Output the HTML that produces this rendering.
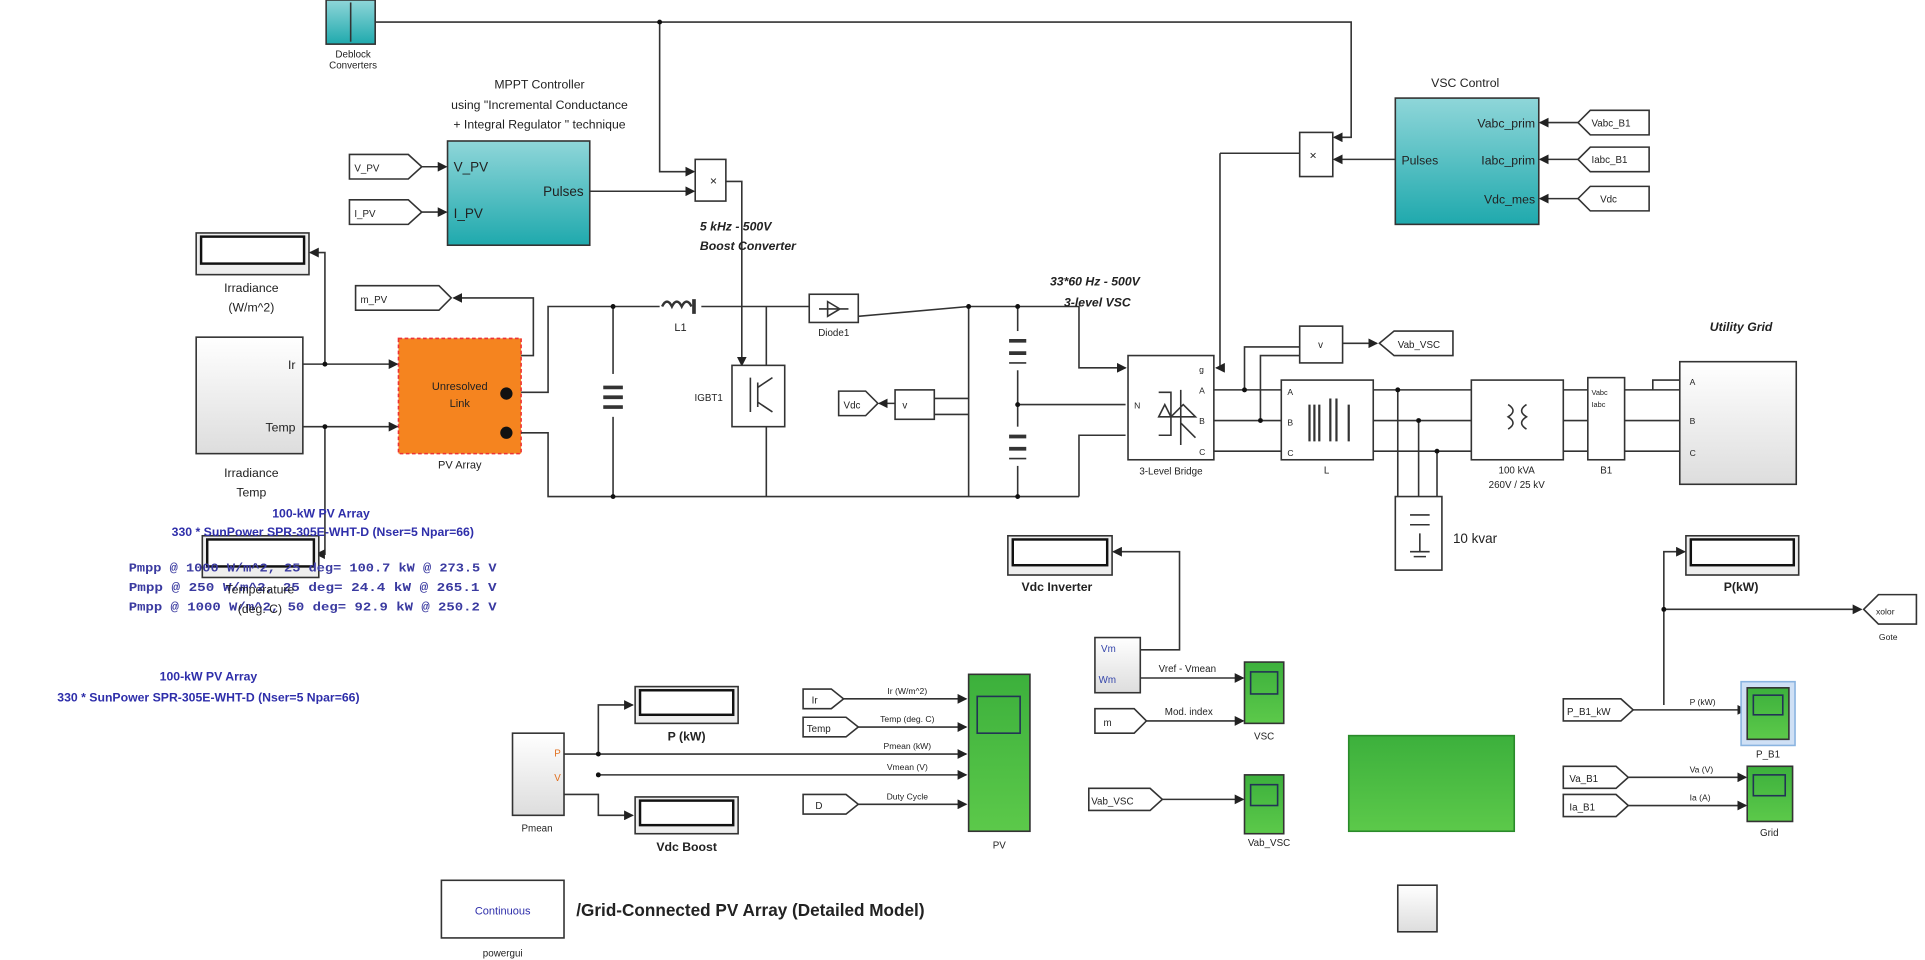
<!DOCTYPE html>
<html><head><meta charset="utf-8"><style>
html,body{margin:0;padding:0;background:#fff;width:1925px;height:960px;overflow:hidden}
svg{display:block}
text{font-family:"Liberation Sans",sans-serif;fill:#222}
</style></head><body>
<svg width="1925" height="960" viewBox="0 0 1570 783" preserveAspectRatio="none" xmlns="http://www.w3.org/2000/svg">
<defs>
<linearGradient id="teal" x1="0" y1="0" x2="0" y2="1"><stop offset="0" stop-color="#8fd6d9"/><stop offset="1" stop-color="#1fa9ad"/></linearGradient>
<linearGradient id="gray" x1="0" y1="0" x2="0" y2="1"><stop offset="0" stop-color="#fff"/><stop offset="1" stop-color="#ddd"/></linearGradient>
<linearGradient id="grn" x1="0" y1="0" x2="0" y2="1"><stop offset="0" stop-color="#3cb03c"/><stop offset="1" stop-color="#5cc94a"/></linearGradient>
<marker id="a" markerWidth="8" markerHeight="8" refX="7" refY="4" orient="auto" markerUnits="userSpaceOnUse"><path d="M0,0 L8,4 L0,8z" fill="#222"/></marker>
</defs>
<g stroke="#333" stroke-width="1.3" fill="none">
<rect x="266" y="0" width="40" height="36" fill="url(#teal)"/>
<line x1="286" y1="2" x2="286" y2="34"/>
<polyline points="306,18 1102,18 1102,112 1088,112" marker-end="url(#a)"/>
<polyline points="538,18 538,140 566,140" marker-end="url(#a)"/>
<rect x="567" y="130" width="25" height="34" fill="#fff"/>
<rect x="1060" y="108" width="27" height="36" fill="#fff"/>
<line x1="1140" y1="130" x2="1088" y2="130" marker-end="url(#a)"/>
<line x1="1060" y1="125" x2="995" y2="125"/>
<polyline points="995,125 995,300 992,300" marker-end="url(#a)"/>
<rect x="365" y="115" width="116" height="85" fill="url(#teal)"/>
<path d="M285,126 H333 L344,136 L333,146 H285Z" fill="#fff"/>
<path d="M285,163 H333 L344,173 L333,183 H285Z" fill="#fff"/>
<line x1="344" y1="136" x2="364" y2="136" marker-end="url(#a)"/>
<line x1="344" y1="173" x2="364" y2="173" marker-end="url(#a)"/>
<line x1="481" y1="156" x2="566" y2="156" marker-end="url(#a)"/>
<polyline points="592,148 605,148 605,298" marker-end="url(#a)"/>
<rect x="160" y="190" width="92" height="34" fill="#eee"/>
<rect x="164" y="193" width="84" height="22" fill="#fff" stroke="#111" stroke-width="2"/>
<rect x="160" y="275" width="87" height="95" fill="url(#gray)"/>
<rect x="325" y="276" width="100" height="94" fill="#f5841f" stroke="#e33" stroke-dasharray="3,2"/>
<line x1="247" y1="297" x2="324" y2="297" marker-end="url(#a)"/>
<line x1="247" y1="348" x2="324" y2="348" marker-end="url(#a)"/>
<polyline points="265,297 265,206 253,206" marker-end="url(#a)"/>
<polyline points="265,348 265,452 258,452" marker-end="url(#a)"/>
<path d="M290,233 H358 L368,243 L358,253 H290Z" fill="#fff"/>
<polyline points="425,290 435,290 435,243 370,243" marker-end="url(#a)"/>
<rect x="165" y="437" width="95" height="34" fill="#eee"/>
<rect x="169" y="440" width="87" height="22" fill="#fff" stroke="#111" stroke-width="2"/>
<polyline points="425,320 447,320 447,250 660,250"/>
<polyline points="425,353 447,353 447,405 880,405"/>
<line x1="500" y1="250" x2="500" y2="405"/>
<rect x="493" y="305" width="14" height="35" fill="#fff" stroke="none"/>
<line x1="492" y1="316" x2="508" y2="316" stroke-width="3"/><line x1="492" y1="324" x2="508" y2="324" stroke-width="3"/><line x1="492" y1="332" x2="508" y2="332" stroke-width="3"/>
<rect x="538" y="245" width="34" height="10" fill="#fff" stroke="none"/>
<path d="M540,250 q4,-8 8,0 q4,-8 8,0 q4,-8 8,0" stroke-width="2"/>
<line x1="566" y1="244" x2="566" y2="256" stroke-width="3"/>
<line x1="625" y1="250" x2="625" y2="298"/>
<rect x="597" y="298" width="43" height="50" fill="#fff"/>
<path d="M612,308 v28 M618,312 v20 M618,316 l12,-8 M618,328 l12,8" />
<polyline points="625,348 625,405"/>
<rect x="660" y="240" width="40" height="23" fill="#fff"/>
<path d="M668,252 h24 M675,246 v12 l10,-6z"/>
<polyline points="700,258 790,250 880,250 880,300 918,300" marker-end="url(#a)"/>
<line x1="790" y1="250" x2="790" y2="405"/>
<path d="M684,319 H706 L716,329 L706,339 H684Z" fill="#fff"/>
<rect x="730" y="318" width="32" height="24" fill="#fff"/>
<line x1="730" y1="329" x2="717" y2="329" marker-end="url(#a)"/>
<polyline points="762,325 790,325"/><polyline points="762,338 790,338"/>
<line x1="830" y1="250" x2="830" y2="405"/>
<rect x="822" y="270" width="16" height="32" fill="#fff" stroke="none"/>
<line x1="823" y1="278" x2="837" y2="278" stroke-width="3"/><line x1="823" y1="288" x2="837" y2="288" stroke-width="3"/><line x1="823" y1="296" x2="837" y2="296"/>
<rect x="822" y="348" width="16" height="32" fill="#fff" stroke="none"/>
<line x1="823" y1="356" x2="837" y2="356" stroke-width="3"/><line x1="823" y1="366" x2="837" y2="366" stroke-width="3"/><line x1="823" y1="374" x2="837" y2="374"/>
<line x1="830" y1="330" x2="918" y2="330"/>
<polyline points="880,405 880,355 918,355"/>
<rect x="920" y="290" width="70" height="85" fill="#fff"/>
<path d="M945,320 h10 v35 h-10 M963,318 v45 M950,330 l-5,10 h10z M965,330 l10,10 h-20z M963,345 l12,12"/>
<line x1="990" y1="318" x2="1045" y2="318"/><line x1="990" y1="343" x2="1045" y2="343"/><line x1="990" y1="368" x2="1045" y2="368"/>
<polyline points="1015,318 1015,283 1060,283"/><polyline points="1028,343 1028,290 1060,290"/>
<rect x="1060" y="266" width="35" height="30" fill="#fff"/>
<line x1="1095" y1="280" x2="1123" y2="280" marker-end="url(#a)"/>
<path d="M1125,280 L1137,270 H1185 V290 H1137Z" fill="#fff"/>
<rect x="1045" y="310" width="75" height="65" fill="#fff"/>
<path d="M1068,330 v30 M1072,330 v30 M1076,330 v30 M1085,325 v35 M1090,325 v35 M1100,330 v30" stroke-width="1.8"/>
<line x1="1120" y1="318" x2="1200" y2="318"/><line x1="1120" y1="343" x2="1200" y2="343"/><line x1="1120" y1="368" x2="1200" y2="368"/>
<polyline points="1140,318 1140,405"/><polyline points="1157,343 1157,405"/><polyline points="1172,368 1172,405"/>
<rect x="1138" y="405" width="38" height="60" fill="#fff"/>
<path d="M1150,420 h16 M1150,428 h16 M1158,435 v15 M1150,450 h16 M1153,454 h10"/>
<rect x="1200" y="310" width="75" height="65" fill="#fff"/>
<path d="M1230,330 q8,5 0,10 q8,5 0,10 M1245,330 q-8,5 0,10 q-8,5 0,10"/>
<line x1="1275" y1="318" x2="1295" y2="318"/><line x1="1275" y1="343" x2="1295" y2="343"/><line x1="1275" y1="368" x2="1295" y2="368"/>
<rect x="1295" y="308" width="30" height="67" fill="#fff"/>
<line x1="1325" y1="318" x2="1370" y2="318"/><line x1="1325" y1="343" x2="1370" y2="343"/><line x1="1325" y1="368" x2="1370" y2="368"/>
<polyline points="1348,318 1348,310 1370,310"/>
<rect x="1370" y="295" width="95" height="100" fill="url(#gray)"/>
<rect x="1138" y="80" width="117" height="103" fill="url(#teal)"/>
<path d="M1345,90 H1297 L1287,100 L1297,110 H1345Z" fill="#fff"/>
<path d="M1345,120 H1297 L1287,130 L1297,140 H1345Z" fill="#fff"/>
<path d="M1345,152 H1297 L1287,162 L1297,172 H1345Z" fill="#fff"/>
<line x1="1287" y1="100" x2="1256" y2="100" marker-end="url(#a)"/>
<line x1="1287" y1="130" x2="1256" y2="130" marker-end="url(#a)"/>
<line x1="1287" y1="162" x2="1256" y2="162" marker-end="url(#a)"/>
<rect x="822" y="437" width="85" height="32" fill="#eee"/>
<rect x="826" y="440" width="77" height="21" fill="#fff" stroke="#111" stroke-width="2"/>
<polyline points="930,530 962,530 962,450 908,450" marker-end="url(#a)"/>
<rect x="893" y="520" width="37" height="45" fill="url(#gray)"/>
<line x1="930" y1="553" x2="1014" y2="553" marker-end="url(#a)"/>
<rect x="1015" y="540" width="32" height="50" fill="url(#grn)"/>
<rect x="1020" y="548" width="22" height="18" fill="none" stroke="#235"/>
<path d="M893,578 H925 L935,588 L925,598 H893Z" fill="#fff"/>
<line x1="935" y1="588" x2="1014" y2="588" marker-end="url(#a)"/>
<path d="M888,643 H938 L948,652 L938,661 H888Z" fill="#fff"/>
<line x1="948" y1="652" x2="1014" y2="652" marker-end="url(#a)"/>
<rect x="1015" y="632" width="32" height="48" fill="url(#grn)"/>
<rect x="1020" y="640" width="22" height="17" fill="none" stroke="#235"/>
<rect x="1100" y="600" width="135" height="78" fill="url(#grn)" stroke="#2a8a2a"/>
<rect x="1140" y="722" width="32" height="38" fill="url(#gray)"/>
<rect x="1375" y="437" width="92" height="32" fill="#eee"/>
<rect x="1379" y="440" width="84" height="21" fill="#fff" stroke="#111" stroke-width="2"/>
<polyline points="1357,575 1357,450 1374,450" marker-end="url(#a)"/>
<line x1="1357" y1="497" x2="1518" y2="497" marker-end="url(#a)"/>
<path d="M1520,497 L1532,485 H1563 V509 H1532Z" fill="#fff"/>
<path d="M1275,570 H1322 L1332,579 L1322,588 H1275Z" fill="#fff"/>
<line x1="1332" y1="579" x2="1424" y2="579" marker-end="url(#a)"/>
<rect x="1420" y="556" width="44" height="52" fill="#cfe0f5" stroke="#8ab4e0"/>
<rect x="1425" y="561" width="34" height="42" fill="url(#grn)"/>
<rect x="1430" y="567" width="24" height="16" fill="none" stroke="#235"/>
<path d="M1275,625 H1318 L1328,634 L1318,643 H1275Z" fill="#fff"/>
<path d="M1275,648 H1318 L1328,657 L1318,666 H1275Z" fill="#fff"/>
<line x1="1328" y1="634" x2="1424" y2="634" marker-end="url(#a)"/>
<line x1="1328" y1="657" x2="1424" y2="657" marker-end="url(#a)"/>
<rect x="1425" y="625" width="37" height="45" fill="url(#grn)"/>
<rect x="1430" y="632" width="26" height="17" fill="none" stroke="#235"/>
<rect x="418" y="598" width="42" height="67" fill="url(#gray)"/>
<polyline points="460,615 488,615 488,575 516,575" marker-end="url(#a)"/>
<polyline points="460,648 488,648 488,665 516,665" marker-end="url(#a)"/>
<line x1="488" y1="615" x2="788" y2="615" marker-end="url(#a)"/>
<line x1="488" y1="632" x2="788" y2="632" marker-end="url(#a)"/>
<rect x="518" y="560" width="84" height="30" fill="#eee"/>
<rect x="522" y="563" width="76" height="20" fill="#fff" stroke="#111" stroke-width="2"/>
<rect x="518" y="650" width="84" height="30" fill="#eee"/>
<rect x="522" y="653" width="76" height="20" fill="#fff" stroke="#111" stroke-width="2"/>
<path d="M655,562 H678 L688,570 L678,578 H655Z" fill="#fff"/>
<path d="M655,585 H690 L700,593 L690,601 H655Z" fill="#fff"/>
<path d="M655,648 H690 L700,656 L690,664 H655Z" fill="#fff"/>
<line x1="688" y1="570" x2="788" y2="570" marker-end="url(#a)"/>
<line x1="700" y1="593" x2="788" y2="593" marker-end="url(#a)"/>
<line x1="700" y1="656" x2="788" y2="656" marker-end="url(#a)"/>
<rect x="790" y="550" width="50" height="128" fill="url(#grn)"/>
<rect x="797" y="568" width="35" height="30" fill="none" stroke="#235"/>
<rect x="360" y="718" width="100" height="47" fill="#fff"/>
</g>
<g fill="#111">
<circle cx="413" cy="321" r="5"/><circle cx="413" cy="353" r="5"/>
<circle cx="265" cy="297" r="2"/><circle cx="265" cy="348" r="2"/><circle cx="500" cy="250" r="2"/><circle cx="500" cy="405" r="2"/>
<circle cx="790" cy="250" r="2"/><circle cx="830" cy="250" r="2"/><circle cx="830" cy="330" r="2"/><circle cx="830" cy="405" r="2"/>
<circle cx="1015" cy="318" r="2"/><circle cx="1028" cy="343" r="2"/><circle cx="1140" cy="318" r="2"/><circle cx="1157" cy="343" r="2"/><circle cx="1172" cy="368" r="2"/>
<circle cx="1357" cy="497" r="2"/><circle cx="488" cy="615" r="2"/><circle cx="488" cy="632" r="2"/><circle cx="538" cy="18" r="2"/>
</g>
<g font-size="9">
<text x="288" y="47" text-anchor="middle" font-size="8">Deblock</text><text x="288" y="56" text-anchor="middle" font-size="8">Converters</text>
<text x="440" y="72" text-anchor="middle" font-size="10">MPPT Controller</text>
<text x="440" y="89" text-anchor="middle" font-size="10">using  "Incremental Conductance</text>
<text x="440" y="105" text-anchor="middle" font-size="10">+ Integral Regulator " technique</text>
<text x="370" y="140" font-size="11">V_PV</text><text x="370" y="178" font-size="11">I_PV</text><text x="476" y="160" font-size="11" text-anchor="end">Pulses</text>
<text x="289" y="140" font-size="8">V_PV</text><text x="289" y="177" font-size="8">I_PV</text><text x="294" y="247" font-size="8">m_PV</text>
<text x="579" y="151" font-size="10">×</text><text x="1068" y="130" font-size="10">×</text>
<text x="600" y="188" text-anchor="middle" font-style="italic" font-weight="bold" font-size="10">5 kHz - 500V</text>
<text x="610" y="204" text-anchor="middle" font-style="italic" font-weight="bold" font-size="10">Boost Converter</text>
<text x="205" y="238" text-anchor="middle" font-size="10">Irradiance</text><text x="205" y="254" text-anchor="middle" font-size="10">(W/m^2)</text>
<text x="241" y="301" text-anchor="end" font-size="10">Ir</text><text x="241" y="352" text-anchor="end" font-size="10">Temp</text>
<text x="205" y="389" text-anchor="middle" font-size="10">Irradiance</text><text x="205" y="405" text-anchor="middle" font-size="10">Temp</text>
<text x="375" y="318" text-anchor="middle" font-size="9">Unresolved</text><text x="375" y="332" text-anchor="middle" font-size="9">Link</text>
<text x="375" y="382" text-anchor="middle" font-size="9">PV Array</text>
<text x="555" y="270" text-anchor="middle">L1</text><text x="578" y="327" text-anchor="middle" font-size="8">IGBT1</text><text x="680" y="274" text-anchor="middle" font-size="8">Diode1</text>
<text x="688" y="333" font-size="8">Vdc</text><text x="736" y="333" font-size="8">v</text>
<text x="893" y="233" text-anchor="middle" font-style="italic" font-weight="bold" font-size="10">33*60 Hz - 500V</text>
<text x="895" y="250" text-anchor="middle" font-style="italic" font-weight="bold" font-size="10">3-level VSC</text>
<text x="955" y="387" text-anchor="middle" font-size="8">3-Level Bridge</text>
<text x="925" y="333" font-size="7">N</text><text x="978" y="304" font-size="7">g</text><text x="978" y="321" font-size="7">A</text><text x="978" y="346" font-size="7">B</text><text x="978" y="371" font-size="7">C</text>
<text x="1050" y="322" font-size="7">A</text><text x="1050" y="347" font-size="7">B</text><text x="1050" y="372" font-size="7">C</text>
<text x="1082" y="386" text-anchor="middle" font-size="8">L</text><text x="1075" y="284" font-size="8">v</text>
<text x="1140" y="284" font-size="8">Vab_VSC</text>
<text x="1237" y="386" text-anchor="middle" font-size="8">100 kVA</text><text x="1237" y="398" text-anchor="middle" font-size="8">260V / 25 kV</text>
<text x="1310" y="386" text-anchor="middle" font-size="8">B1</text>
<text x="1298" y="322" font-size="6">Vabc</text><text x="1298" y="332" font-size="6">Iabc</text>
<text x="1185" y="443" font-size="11">10 kvar</text>
<text x="1420" y="270" text-anchor="middle" font-style="italic" font-weight="bold" font-size="10">Utility Grid</text>
<text x="1378" y="314" font-size="7">A</text><text x="1378" y="346" font-size="7">B</text><text x="1378" y="372" font-size="7">C</text>
<text x="1195" y="71" text-anchor="middle" font-size="10">VSC Control</text>
<text x="1143" y="134" font-size="10">Pulses</text>
<text x="1252" y="104" text-anchor="end" font-size="10">Vabc_prim</text><text x="1252" y="134" text-anchor="end" font-size="10">Iabc_prim</text><text x="1252" y="166" text-anchor="end" font-size="10">Vdc_mes</text>
<text x="1298" y="103" font-size="8">Vabc_B1</text><text x="1298" y="133" font-size="8">Iabc_B1</text><text x="1305" y="165" font-size="8">Vdc</text>
<text x="222" y="422" font-weight="bold" font-size="10" style="fill:#2e2eaa">100-kW  PV Array</text>
<text x="140" y="437" style="fill:#2e2eaa" font-weight="bold" font-size="10">330 * SunPower SPR-305E-WHT-D (Nser=5 Npar=66)</text>
<g font-size="10" font-weight="bold">
<text x="105" y="466" textLength="300" lengthAdjust="spacingAndGlyphs" style="font-family:'Liberation Mono',monospace;fill:#3a3aa0">Pmpp @ 1000 W/m^2, 25 deg= 100.7  kW @ 273.5  V</text>
<text x="105" y="482" textLength="300" lengthAdjust="spacingAndGlyphs" style="font-family:'Liberation Mono',monospace;fill:#3a3aa0">Pmpp @  250 W/m^2, 25 deg= 24.4   kW @ 265.1  V</text>
<text x="105" y="498" textLength="300" lengthAdjust="spacingAndGlyphs" style="font-family:'Liberation Mono',monospace;fill:#3a3aa0">Pmpp @ 1000 W/m^2, 50 deg= 92.9   kW @ 250.2  V</text>
</g>
<text x="212" y="484" text-anchor="middle" font-size="10">Temperature</text><text x="212" y="500" text-anchor="middle" font-size="10">(deg. C)</text>
<text x="170" y="555" text-anchor="middle" style="fill:#2e2eaa" font-weight="bold" font-size="10">100-kW  PV Array</text>
<text x="170" y="572" text-anchor="middle" style="fill:#2e2eaa" font-weight="bold" font-size="10">330 * SunPower SPR-305E-WHT-D (Nser=5 Npar=66)</text>
<text x="862" y="482" text-anchor="middle" font-weight="bold" font-size="10">Vdc Inverter</text>
<text x="898" y="532" font-size="8" style="fill:#3344aa">Vm</text><text x="896" y="557" font-size="8" style="fill:#3344aa">Wm</text>
<text x="945" y="548" font-size="8">Vref - Vmean</text><text x="950" y="583" font-size="8">Mod. index</text>
<text x="900" y="592" font-size="8">m</text><text x="890" y="656" font-size="8">Vab_VSC</text>
<text x="1031" y="603" text-anchor="middle" font-size="8">VSC</text><text x="1035" y="690" text-anchor="middle" font-size="8">Vab_VSC</text>
<text x="1420" y="482" text-anchor="middle" font-weight="bold" font-size="10">P(kW)</text>
<text x="1530" y="501" font-size="7">xolor</text><text x="1540" y="522" text-anchor="middle" font-size="7">Gote</text>
<text x="1278" y="583" font-size="8">P_B1_kW</text><text x="1378" y="575" font-size="7">P (kW)</text><text x="1442" y="618" text-anchor="middle" font-size="8">P_B1</text>
<text x="1280" y="638" font-size="8">Va_B1</text><text x="1280" y="661" font-size="8">Ia_B1</text>
<text x="1378" y="630" font-size="7">Va (V)</text><text x="1378" y="653" font-size="7">Ia (A)</text><text x="1443" y="682" text-anchor="middle" font-size="8">Grid</text>
<text x="452" y="617" font-size="8" style="fill:#e07020">P</text><text x="452" y="637" font-size="8" style="fill:#e07020">V</text>
<text x="438" y="678" text-anchor="middle" font-size="8">Pmean</text>
<text x="560" y="604" text-anchor="middle" font-weight="bold" font-size="10">P (kW)</text>
<text x="560" y="694" text-anchor="middle" font-weight="bold" font-size="10">Vdc Boost</text>
<text x="662" y="574" font-size="8">Ir</text><text x="658" y="597" font-size="8">Temp</text><text x="665" y="660" font-size="8">D</text>
<text x="740" y="566" text-anchor="middle" font-size="7">Ir (W/m^2)</text><text x="740" y="589" text-anchor="middle" font-size="7">Temp (deg. C)</text>
<text x="740" y="611" text-anchor="middle" font-size="7">Pmean (kW)</text><text x="740" y="628" text-anchor="middle" font-size="7">Vmean (V)</text><text x="740" y="652" text-anchor="middle" font-size="7">Duty Cycle</text>
<text x="815" y="692" text-anchor="middle" font-size="8">PV</text>
<text x="410" y="746" text-anchor="middle" font-size="9" style="fill:#2e2eaa">Continuous</text>
<text x="410" y="780" text-anchor="middle" font-size="8">powergui</text>
<text x="470" y="747" font-weight="bold" font-size="14">/Grid-Connected PV Array (Detailed Model)</text>
</g>
</svg>
</body></html>
